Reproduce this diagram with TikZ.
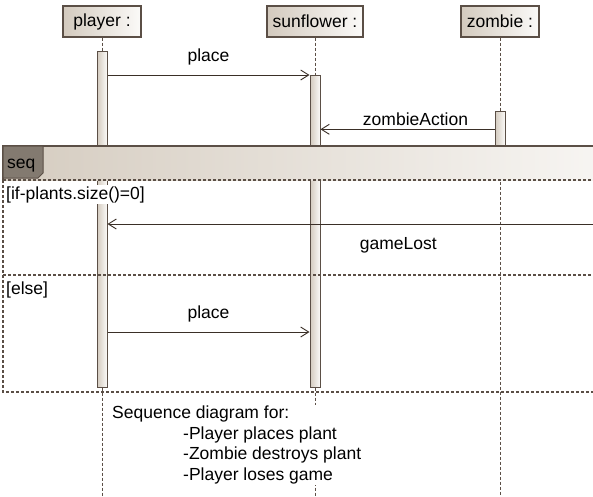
\documentclass[tikz,border=0pt]{standalone}
\usepackage{fontspec}
\setmainfont{Liberation Sans}
\usetikzlibrary{arrows.meta,calc}
\definecolor{edgec}{HTML}{5B4F46}
\definecolor{msgc}{HTML}{3A2F27}
\definecolor{shadeL}{HTML}{D3CABE}
\definecolor{shadeR}{HTML}{FBFAF8}
\definecolor{tabc}{HTML}{837A70}
\definecolor{hdrL}{HTML}{D5CCC0}
\definecolor{hdrR}{HTML}{F7F5F2}
\begin{document}
\begin{tikzpicture}[x=1pt,y=-1pt,
  font=\fontsize{17.5}{20.5}\selectfont,
  part/.style={draw=edgec, line width=1.1pt, left color=shadeL, right color=shadeR,
    minimum height=31, inner sep=0pt},
  act/.style={draw=edgec, line width=1pt, left color=shadeL, right color=shadeR,
    minimum width=10, inner sep=0pt},
  life/.style={draw=edgec, line width=0.9pt, dash pattern=on 3pt off 2pt},
  msg/.style={draw=msgc, line width=1pt, -{Straight Barb[length=8pt,width=10pt,line width=0.9pt]}},
  lbl/.style={inner sep=0pt, anchor=base},
  framedash/.style={draw=edgec, line width=1.4pt, dash pattern=on 3pt off 2pt},
  guard/.style={inner sep=1pt, fill=white, anchor=base west}]
\useasboundingbox (0,0) rectangle (593,496);
\fill[white] (0,0) rectangle (593,496);
\coordinate (bot) at (0,496);
% participants
\node[part, minimum width=78] (pl) at (102,21.5) {player :};
\node[part, minimum width=96] (sl) at (315,21.5) {sunflower :};
\node[part, minimum width=78] (zl) at (500,21.5) {zombie :};
% activations (positions)
\node[act, minimum height=336] (pa) at (102,219) {};
\node[act, minimum height=312] (sa) at (315,231) {};
\node[act, minimum height=35] (za) at (500,128.5) {};
% lifelines
\draw[life] (pl.south) -- (pa.north);
\draw[life] (sl.south) -- (sa.north);
\draw[life] (zl.south) -- (za.north);
\draw[life] (pa.south) -- (pa.south |- bot);
\draw[life] (sa.south) -- (sa.south |- bot);
\draw[life] (za.south) -- (za.south |- bot);
% frame header
\fill[left color=hdrL, right color=hdrR] (3,146) rectangle (600,180);
\draw[edgec, line width=1.3pt] (600,146) -- (3,146) -- (3,180);
\filldraw[fill=tabc, draw=edgec, line width=1pt] (3,146) -- (43,146) -- (43,173) -- (38,178) -- (3,178) -- cycle;
\node[lbl, anchor=base west] (seq) at (7,168) {seq};
% frame body
\draw[framedash] (3,180) -- (600,180);
\draw[framedash] (3,180) -- (3,392) -- (600,392);
\draw[framedash] (3,275) -- (600,275);
% messages
\coordinate (m1) at (0,75);
\coordinate (m2) at (0,129.3);
\coordinate (m3) at (0,224);
\coordinate (m4) at (0,332);
\coordinate (gstart) at (593,224);
\draw[msg] (pa.east |- m1) -- (sa.west |- m1)
  node[lbl, midway, yshift=14pt] {place};
\draw[msg] (za.west |- m2) -- (sa.east |- m2)
  node[lbl, midway, yshift=3.5pt, xshift=8pt] {zombieAction};
\draw[msg] (gstart) -- (pa.east |- m3)
  node[lbl, midway, yshift=-25pt, xshift=48pt] {gameLost};
\draw[msg] (pa.east |- m4) -- (sa.west |- m4)
  node[lbl, midway, yshift=14pt] {place};
% guards
\node[guard] (g1) at (5,199) {[if-plants.size()=0]};
\node[guard] (g2) at (5,294) {[else]};
% note text
\node[fill=white, inner xsep=2pt, inner ysep=1pt, anchor=north west, align=left] (note) at (110,405)
  {Sequence diagram for:\\
   \hspace*{71pt}-Player places plant\\
   \hspace*{71pt}-Zombie destroys plant\\
   \hspace*{71pt}-Player loses game};
\end{tikzpicture}
\end{document}
